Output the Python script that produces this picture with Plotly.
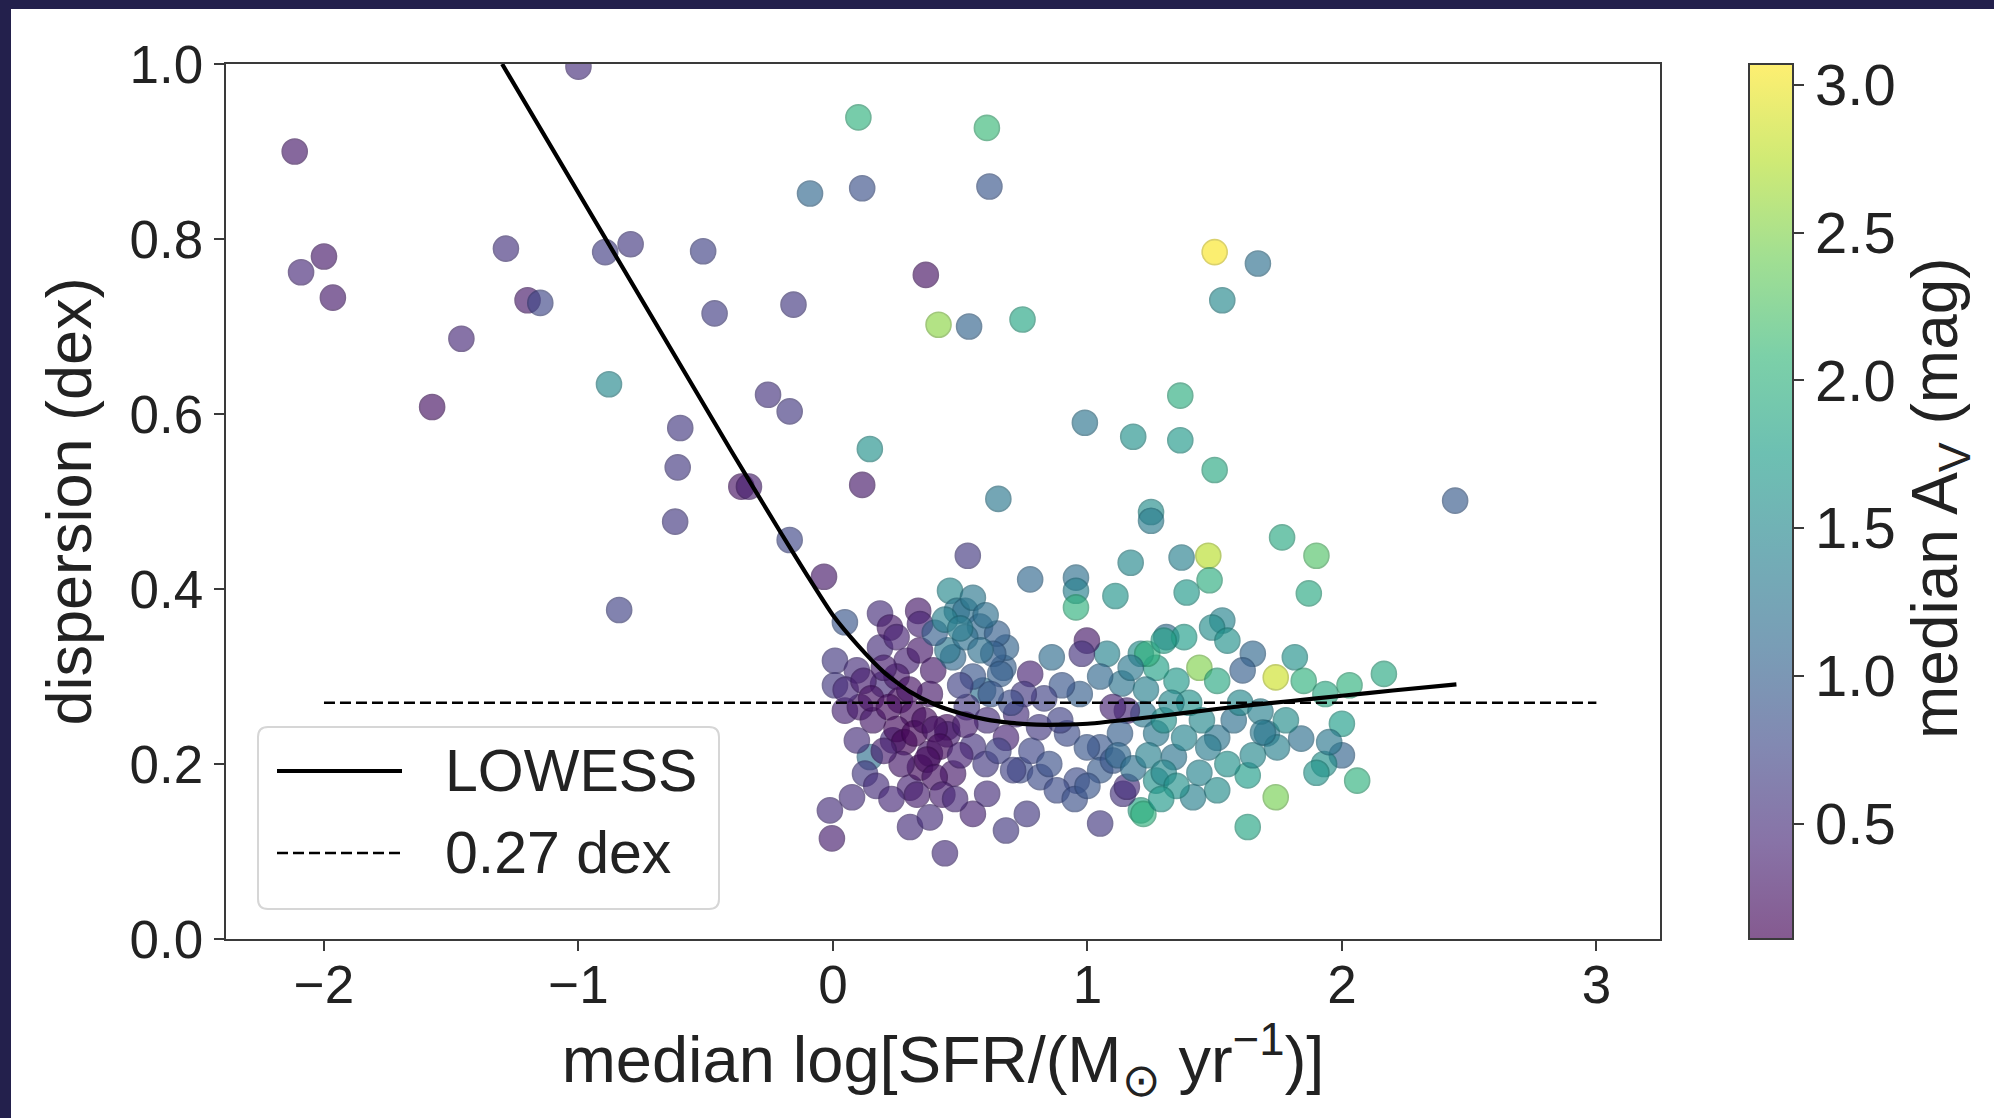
import plotly.graph_objects as go

# ---------------- data ----------------
sfr = [
    -2.115, -2.090, -2.000, -1.965, -1.575, -1.460, -1.285, -1.200, -1.150, -1.000,
    -0.895, -0.795, -0.880, -0.840, -0.510, -0.465, -0.600, -0.610, -0.620, -0.360,
    -0.330, -0.255, -0.170, -0.155, -0.170, -0.035, -0.090, 0.115, 0.100, 0.115,
    0.145, 0.365, 0.415, 0.535, 0.745, 0.615, 0.605,
    1.500, 1.670, 1.530, 0.990, 1.180, 1.365, 1.365, 1.500, 0.650, 1.250,
    1.250, 2.445, 0.530, 0.775, 0.955, 0.955, 0.955, 1.110, 1.170, 1.370,
    1.390, 1.475, 1.480, 1.765, 1.900, 1.870,
    1.530, 1.490, 1.550, 1.650, 1.815, 1.610, 1.740, 1.850, 1.935, 2.030,
    2.165, 2.000, 2.000, 1.930, 1.900, 2.060, 1.840, 1.705, 1.745, 1.630,
    1.740, 1.630, 1.510, 1.575, 1.475, 1.510, 1.440, 1.415, 1.350, 1.270,
    1.210, 1.310, 1.380, 1.440, 1.510, 1.135, 1.077, 0.998, 0.978, 0.860,
    0.775, 0.670, 0.680, 1.220, 1.155, 1.270, 1.340, 1.270, 1.210, 1.140,
    1.050, 0.958, 0.762, 0.680, 1.050, 0.920, 0.720, 0.810, 0.680, 0.735,
    1.050, 1.155,
    0.047, 0.185, 0.335, 0.342, 0.460, 0.487, 0.520, 0.578, 0.645, 0.630,
    0.008, 0.094, 0.008, 0.047, 0.106, 0.185, 0.197, 0.290, 0.342, 0.394,
    0.472, 0.590, 0.657, 1.235, 1.300, 0.145, 0.126, 0.075, -0.012, -0.004,
    0.236, 0.303, 0.303, 0.381, 0.440, 0.381, 0.342, 0.448, 0.472, 0.550,
    0.606, 0.708, 0.814, 1.100, 1.220, 0.526, 0.606, 0.893, 0.998, 1.128,
    1.300, 1.100, 0.263, 0.157, 0.094, 0.315, 0.381, 0.224,
    0.450, 0.550, 0.600, 0.650, 0.780, 0.850, 0.880, 0.950, 1.000, 1.120,
    1.180, 1.240, 1.300, 1.350, 1.290, 1.380, 1.450, 1.400, 1.330, 1.230,
    1.170, 1.050, 0.970, 0.900, 0.830, 0.750, 0.700, 0.620, 0.550, 0.500,
    0.450, 0.520, 0.580, 0.400, 0.440, 0.550, 0.600, 0.500, 0.050, 0.120,
    0.150, 0.220, 0.250, 0.280, 0.320, 0.360, 0.400, 0.420, 0.250, 0.300,
    0.200, 0.370, 0.400, 0.270, 0.200, 0.170, 0.230, 0.330, 0.430, 0.500,
    0.480, 0.520, 0.250, 1.600, 1.680, 1.780, 1.950, 1.550, 1.650, 1.690,
]
dispersion = [
    0.900, 0.762, 0.780, 0.733, 0.608, 0.686, 0.789, 0.730, 0.727, 0.997,
    0.785, 0.794, 0.634, 0.376, 0.786, 0.715, 0.584, 0.539, 0.477, 0.517,
    0.517, 0.622, 0.603, 0.725, 0.456, 0.414, 0.852, 0.858, 0.939, 0.519,
    0.560, 0.759, 0.702, 0.700, 0.708, 0.860, 0.927,
    0.785, 0.772, 0.730, 0.590, 0.574, 0.621, 0.570, 0.536, 0.503, 0.488,
    0.478, 0.501, 0.438, 0.411, 0.413, 0.398, 0.379, 0.392, 0.430, 0.436,
    0.396, 0.438, 0.410, 0.459, 0.438, 0.395,
    0.364, 0.356, 0.341, 0.326, 0.322, 0.307, 0.299, 0.295, 0.280, 0.290,
    0.303, 0.246, 0.210, 0.200, 0.190, 0.181, 0.229, 0.235, 0.219, 0.187,
    0.162, 0.128, 0.230, 0.250, 0.219, 0.170, 0.190, 0.162, 0.295, 0.310,
    0.326, 0.345, 0.345, 0.310, 0.295, 0.292, 0.326, 0.341, 0.326, 0.322,
    0.303, 0.310, 0.333, 0.257, 0.261, 0.235, 0.208, 0.181, 0.147, 0.166,
    0.132, 0.181, 0.143, 0.124, 0.219, 0.235, 0.257, 0.242, 0.230, 0.193,
    0.193, 0.174,
    0.362, 0.372, 0.375, 0.360, 0.398, 0.375, 0.375, 0.357, 0.349, 0.326,
    0.318, 0.307, 0.290, 0.261, 0.265, 0.333, 0.291, 0.318, 0.330, 0.307,
    0.322, 0.284, 0.303, 0.326, 0.341, 0.208, 0.189, 0.162, 0.147, 0.115,
    0.227, 0.173, 0.128, 0.139, 0.098, 0.212, 0.196, 0.242, 0.189, 0.143,
    0.166, 0.193, 0.185, 0.204, 0.143, 0.265, 0.250, 0.250, 0.219, 0.235,
    0.250, 0.265, 0.273, 0.250, 0.227, 0.257, 0.280, 0.356,
    0.234, 0.220, 0.200, 0.215, 0.215, 0.200, 0.170, 0.160, 0.175, 0.210,
    0.195, 0.210, 0.190, 0.175, 0.160, 0.230, 0.250, 0.270, 0.270, 0.285,
    0.310, 0.300, 0.280, 0.290, 0.275, 0.280, 0.270, 0.280, 0.300, 0.290,
    0.330, 0.345, 0.330, 0.350, 0.365, 0.390, 0.370, 0.355, 0.285, 0.295,
    0.275, 0.265, 0.240, 0.225, 0.235, 0.250, 0.240, 0.220, 0.300, 0.285,
    0.310, 0.205, 0.185, 0.200, 0.215, 0.175, 0.160, 0.165, 0.165, 0.210,
    0.160, 0.245, 0.345, 0.270, 0.260, 0.250, 0.225, 0.200, 0.210, 0.236,
]
median_av = [
    0.30, 0.45, 0.30, 0.32, 0.25, 0.45, 0.55, 0.30, 0.75, 0.50,
    0.65, 0.60, 1.50, 0.70, 0.70, 0.65, 0.60, 0.60, 0.60, 0.25,
    0.35, 0.55, 0.60, 0.60, 0.75, 0.30, 1.10, 0.85, 2.00, 0.30,
    1.60, 0.25, 2.55, 1.05, 1.85, 0.90, 2.10,
    3.05, 1.20, 1.50, 1.25, 1.60, 1.95, 1.70, 1.90, 1.30, 1.55,
    1.35, 0.95, 0.60, 1.10, 1.20, 1.40, 2.00, 1.65, 1.50, 1.40,
    1.70, 2.75, 1.95, 1.90, 2.25, 1.90,
    1.45, 1.55, 1.60, 1.10, 1.60, 1.00, 2.85, 2.00, 1.90, 2.00,
    1.90, 1.75, 1.05, 1.60, 1.65, 2.00, 1.20, 1.30, 1.40, 1.75,
    2.45, 1.85, 1.25, 1.20, 1.35, 1.55, 1.45, 1.40, 1.70, 1.80,
    1.55, 1.15, 1.75, 2.50, 1.90, 1.25, 1.45, 0.30, 0.55, 1.15,
    0.40, 1.00, 1.05, 1.30, 0.45, 1.30, 1.25, 1.60, 1.85, 0.55,
    0.60, 0.80, 0.60, 0.60, 0.90, 0.80, 0.50, 0.60, 0.40, 0.80,
    0.95, 0.50,
    0.90, 0.50, 0.30, 0.40, 1.50, 1.30, 1.20, 1.10, 1.00, 1.00,
    0.60, 0.50, 0.60, 0.40, 0.30, 0.50, 0.50, 0.40, 0.30, 0.30,
    1.10, 1.20, 1.00, 2.00, 1.80, 1.20, 0.60, 0.50, 0.50, 0.35,
    0.50, 0.40, 0.50, 0.50, 0.50, 0.30, 0.20, 0.20, 0.30, 0.40,
    0.50, 0.70, 0.80, 0.90, 2.00, 0.60, 0.50, 0.70, 0.90, 1.00,
    1.60, 0.40, 0.20, 0.30, 0.50, 0.20, 0.30, 0.30,
    0.35, 0.55, 0.60, 0.70, 0.75, 0.85, 0.80, 0.85, 0.90, 1.10,
    1.20, 1.40, 1.50, 1.60, 1.70, 1.45, 1.50, 1.60, 1.50, 1.40,
    1.30, 1.10, 1.00, 0.90, 0.70, 0.60, 0.80, 0.90, 0.90, 0.70,
    1.30, 1.20, 1.20, 1.00, 1.40, 1.30, 1.20, 1.35, 0.45, 0.35,
    0.25, 0.20, 0.20, 0.15, 0.15, 0.20, 0.25, 0.20, 0.30, 0.25,
    0.35, 0.20, 0.25, 0.30, 0.35, 0.50, 0.45, 0.35, 0.35, 0.40,
    0.45, 0.35, 0.40, 1.50, 1.40, 1.55, 1.30, 1.60, 1.50, 1.30,
]

lowess_x = [-1.30, -0.40, -0.20, -0.10, 0.00, 0.10, 0.20,
            0.30, 0.40, 0.50, 0.60, 0.70, 0.80, 0.90, 1.00, 1.20, 1.40,
            1.60, 1.80, 2.00, 2.20, 2.45]
lowess_y = [1.000, 0.558, 0.462, 0.415, 0.370, 0.335, 0.305,
            0.283, 0.268, 0.258, 0.251, 0.247, 0.245, 0.245, 0.246, 0.252, 0.259,
            0.266, 0.272, 0.278, 0.284, 0.291]
ref_x = [-2.0, 3.0]
ref_y = [0.27, 0.27]

x_ticks = [-2, -1, 0, 1, 2, 3]
y_ticks = [0.0, 0.2, 0.4, 0.6, 0.8, 1.0]
cbar_ticks = [0.5, 1.0, 1.5, 2.0, 2.5, 3.0]
legend_labels = ["LOWESS", "0.27 dex"]

# ---------------- styling ----------------
W, H = 1994, 1118
L, R, T, B = 226, 334, 64, 179
PW, PH = W - L - R, H - T - B
FONT = "Liberation Sans, Arial, Helvetica, sans-serif"
AXC = "#3a3a3a"
TXT = "#222222"
CMIN, CMAX = 0.11, 3.07
ALPHA = 0.65

viridis = ['#440154', '#482878', '#3e4989', '#31688e', '#26828e',
           '#1f9e89', '#35b779', '#6ece58', '#b5de2b', '#fde725']


def hex_rgb(h):
    return tuple(int(h[i:i + 2], 16) for i in (1, 3, 5))


def scale(stops, f):
    n = len(stops) - 1
    return [[i / n, f(hex_rgb(c))] for i, c in enumerate(stops)]


washed = scale(viridis, lambda c: "rgb(%d,%d,%d)" % tuple(round(ALPHA * v + (1 - ALPHA) * 255) for v in c))
darker = scale(viridis, lambda c: "rgb(%d,%d,%d)" % tuple(round(0.8 * v) for v in c))

fig = go.Figure()

fig.add_trace(go.Scatter(
    x=sfr, y=dispersion, mode="markers", showlegend=False, hoverinfo="skip",
    marker=dict(size=25, color=median_av, colorscale="Viridis", cmin=CMIN, cmax=CMAX,
                opacity=ALPHA, showscale=False,
                line=dict(width=1.6, color=median_av, colorscale=darker, cmin=CMIN, cmax=CMAX)),
))

fig.add_trace(go.Scatter(
    x=ref_x, y=ref_y, mode="lines", name=legend_labels[1], showlegend=False,
    line=dict(color="black", width=2.6, dash="11px,5px"), hoverinfo="skip",
))
fig.add_trace(go.Scatter(
    x=lowess_x, y=lowess_y, mode="lines", name=legend_labels[0], showlegend=False,
    line=dict(color="black", width=4.2, shape="spline", smoothing=0.6), hoverinfo="skip",
))

# colour bar (shown with the alpha-washed palette, as in the reference)
fig.add_trace(go.Scatter(
    x=[None], y=[None], mode="markers", showlegend=False, hoverinfo="skip",
    marker=dict(color=[CMIN], colorscale=washed, cmin=CMIN, cmax=CMAX, showscale=True,
                colorbar=dict(
                    x=(1749 - L) / PW, xanchor="left", xpad=0,
                    y=0.5, yanchor="middle", len=1.0, lenmode="fraction", ypad=0,
                    thickness=44, outlinewidth=2, outlinecolor=AXC,
                    ticks="outside", ticklen=10, tickwidth=2, tickcolor=AXC,
                    tickvals=cbar_ticks, ticktext=["%.1f" % v for v in cbar_ticks],
                    tickfont=dict(family=FONT, size=58, color=TXT),
                )),
))

axis_common = dict(
    showgrid=False, zeroline=False, showline=True, linecolor=AXC, linewidth=2.2,
    mirror=True, ticks="outside", ticklen=10, tickwidth=2, tickcolor=AXC,
    tickfont=dict(family=FONT, size=53, color=TXT),
)

fig.update_layout(
    width=W, height=H, autosize=False,
    margin=dict(l=L, r=R, t=T, b=B, pad=0),
    paper_bgcolor="white", plot_bgcolor="white",
    font=dict(family=FONT, color=TXT),
    xaxis=dict(range=[-2.385, 3.25], tickvals=x_ticks, ticklabelstandoff=-12,
               title=dict(text="median log[SFR/(M<sub>⊙</sub> yr<sup>−1</sup>)]",
                          font=dict(family=FONT, size=65, color=TXT), standoff=24),
               **axis_common),
    yaxis=dict(range=[0, 1], tickvals=y_ticks, tickformat=".1f",
               title=dict(text="dispersion (dex)",
                          font=dict(family=FONT, size=63, color=TXT), standoff=18),
               **axis_common),
)

# colour-bar title
fig.add_annotation(
    xref="paper", yref="paper", x=(1939 - L) / PW, y=(939 - 498) / PH,
    text="median A<sub>V</sub> (mag)", textangle=-90, showarrow=False,
    xanchor="center", yanchor="middle", font=dict(family=FONT, size=64, color=TXT),
)


# legend box (matplotlib style, rounded frame)
def px_x(p):
    return (p - L) / PW


def px_y(p):
    return (939 - p) / PH


x0, x1, y0, y1 = px_x(258), px_x(719), px_y(909), px_y(727)
rx, ry = 10 / PW, 10 / PH
path = (f"M {x0+rx},{y0} L {x1-rx},{y0} Q {x1},{y0} {x1},{y0+ry} "
        f"L {x1},{y1-ry} Q {x1},{y1} {x1-rx},{y1} L {x0+rx},{y1} "
        f"Q {x0},{y1} {x0},{y1-ry} L {x0},{y0+ry} Q {x0},{y0} {x0+rx},{y0} Z")
fig.add_shape(type="path", path=path, xref="paper", yref="paper",
              fillcolor="rgba(255,255,255,0.85)", line=dict(color="#d6d6d6", width=2), layer="above")
fig.add_shape(type="line", xref="paper", yref="paper", x0=px_x(277), x1=px_x(402),
              y0=px_y(771), y1=px_y(771), line=dict(color="black", width=4.2), layer="above")
fig.add_shape(type="line", xref="paper", yref="paper", x0=px_x(277), x1=px_x(402),
              y0=px_y(853), y1=px_y(853), line=dict(color="black", width=2.6, dash="11px,5px"), layer="above")
for lbl, yy in zip(legend_labels, [771, 853]):
    fig.add_annotation(xref="paper", yref="paper", x=px_x(443), y=px_y(yy), text=lbl,
                       showarrow=False, xanchor="left", yanchor="middle",
                       font=dict(family=FONT, size=59, color=TXT))

# dark frame strips of the original screenshot (top and left edges)
NAVY = "#23204c"
fig.add_shape(type="rect", xref="paper", yref="paper", layer="above",
              x0=-0.3, x1=1.4, y0=px_y(9), y1=px_y(-5), fillcolor=NAVY, line=dict(width=0))
fig.add_shape(type="rect", xref="paper", yref="paper", layer="above",
              x0=px_x(-5), x1=px_x(11), y0=-0.3, y1=1.2, fillcolor=NAVY, line=dict(width=0))

fig.write_html("out.html")
